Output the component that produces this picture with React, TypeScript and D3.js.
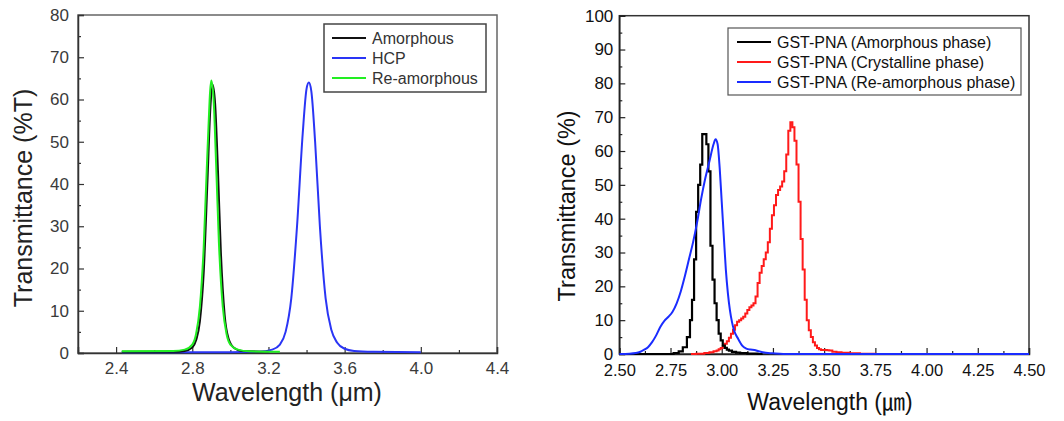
import React, { useEffect, useRef } from 'react'
import * as d3 from 'd3'

// ---- left panel data: wavelength (um), transmittance (%T)
const leftAmorphousX = [2.43, 2.6, 2.7, 2.76, 2.8, 2.82, 2.84, 2.86, 2.88, 2.895, 2.907, 2.92, 2.935, 2.95, 2.97, 2.99, 3.02, 3.06, 3.2]
const leftAmorphousY = [0.3, 0.3, 0.3, 0.5, 1.3, 3, 7.5, 19, 41, 58, 63.5, 59, 43, 24, 9, 3.5, 1.2, 0.5, 0.3]
const leftHcpX = [2.43, 3.0, 3.15, 3.22, 3.26, 3.29, 3.32, 3.35, 3.38, 3.4, 3.412, 3.425, 3.445, 3.47, 3.5, 3.53, 3.56, 3.6, 3.65, 3.75, 4.0]
const leftHcpY = [0.2, 0.2, 0.3, 0.8, 2, 5, 13, 30, 52, 62.5, 64, 62, 50, 30, 13, 5.5, 2.5, 1, 0.5, 0.3, 0.2]
const leftReamX = [2.43, 2.7, 2.76, 2.8, 2.82, 2.84, 2.86, 2.88, 2.9, 2.912, 2.925, 2.94, 2.96, 2.98, 3.0, 3.04, 3.1, 3.26]
const leftReamY = [0.4, 0.5, 0.8, 2, 4.5, 11, 25, 48, 64.5, 60, 45, 26, 11, 4.5, 2, 0.8, 0.4, 0.3]
const leftXTicks = [2.4, 2.8, 3.2, 3.6, 4.0, 4.4]
const leftYTicks = [0, 10, 20, 30, 40, 50, 60, 70, 80]
const leftNames = ['Amorphous', 'HCP', 'Re-amorphous']
const leftColors = ['#111111', '#2a35f5', '#22ee22']

// ---- right panel data: wavelength, transmittance (%)
const rightAmorphousX = [2.5, 2.75, 2.78, 2.8, 2.82, 2.84, 2.85, 2.86, 2.87, 2.88, 2.89, 2.9, 2.91, 2.92, 2.93, 2.94, 2.95, 2.96, 2.97, 2.98, 2.99, 3.0, 3.01, 3.02, 3.03, 3.04, 3.06, 3.08, 3.1, 3.15, 3.2]
const rightAmorphousY = [0, 0, 0.3, 0.8, 2, 5, 10, 16, 28, 42, 50, 56, 65, 65, 62, 54, 32, 22, 15, 10, 6, 4, 2.5, 1.8, 1.3, 1.0, 0.6, 0.4, 0.3, 0.1, 0]
const rightCrystX = [2.85, 2.9, 2.93, 2.95, 2.97, 2.98, 2.99, 3.0, 3.01, 3.02, 3.03, 3.04, 3.05, 3.06, 3.07, 3.08, 3.09, 3.1, 3.11, 3.12, 3.13, 3.14, 3.15, 3.16, 3.17, 3.18, 3.19, 3.2, 3.21, 3.22, 3.23, 3.24, 3.25, 3.26, 3.27, 3.28, 3.29, 3.3, 3.31, 3.32, 3.33, 3.34, 3.35, 3.36, 3.37, 3.38, 3.39, 3.4, 3.41, 3.42, 3.43, 3.44, 3.45, 3.46, 3.47, 3.48, 3.49, 3.5, 3.51, 3.52, 3.53, 3.55, 3.57, 3.6, 3.65, 3.7, 3.8, 4.5]
const rightCrystY = [0, 0.1, 0.3, 0.5, 0.8, 1, 1.4, 1.8, 2.3, 3, 3.8, 4.8, 6, 7.2, 8.5, 9.5, 10, 10.5, 11, 12, 13, 13.8, 14.3, 15, 17, 21, 24, 26, 28, 30, 33, 37, 41, 44, 47, 48.5, 49.5, 51, 54, 59, 66, 68.5, 67, 63, 56, 45, 34, 25, 16, 10, 7, 5, 3.5, 2.5, 1.8, 1.4, 1.2, 1.2, 1.2, 1.1, 1.0, 0.7, 0.5, 0.4, 0.2, 0.1, 0, 0]
const rightReamX = [2.5, 2.55, 2.58, 2.6, 2.62, 2.64, 2.66, 2.68, 2.7, 2.72, 2.74, 2.76, 2.78, 2.8, 2.82, 2.84, 2.86, 2.88, 2.9, 2.92, 2.94, 2.96, 2.97, 2.98, 2.99, 3.0, 3.01, 3.02, 3.03, 3.04, 3.05, 3.06, 3.08, 3.1, 3.12, 3.14, 3.16, 3.18, 3.2, 3.25, 3.3, 4.5]
const rightReamY = [0, 0.1, 0.3, 0.6, 1.2, 2, 3.5, 5.5, 8, 9.8, 11, 12.5, 15, 18.5, 23, 28, 33, 39, 46, 52, 57, 62, 63.5, 62, 55, 45, 35, 25, 18, 13, 9.5, 7, 4.5, 2.5, 1.6, 1.3, 1.2, 0.8, 0.5, 0.2, 0, 0]
const rightXTicks = [2.5, 2.75, 3.0, 3.25, 3.5, 3.75, 4.0, 4.25, 4.5]
const rightYTicks = [0, 10, 20, 30, 40, 50, 60, 70, 80, 90, 100]
const rightNames = ['GST-PNA (Amorphous phase)', 'GST-PNA (Crystalline phase)', 'GST-PNA (Re-amorphous phase)']
const rightColors = ['#000000', '#ff1a1a', '#1a2cff']

const FONT = 'Liberation Sans, Arial, Helvetica, sans-serif'

const zip = (xs: number[], ys: number[]) => xs.map((x, i) => [x, ys[i]] as [number, number])

function App() {
    const ref = useRef<SVGSVGElement>(null)

    useEffect(() => {
        const svg = d3.select(ref.current)
        svg.selectAll('*').remove()

        // ================= left panel =================
        const lx = d3.scaleLinear().domain([2.2, 4.4]).range([78, 497])
        const ly = d3.scaleLinear().domain([0, 80]).range([353, 15])
        const L = svg.append('g')

        // frame
        L.append('rect')
            .attr('x', lx(2.2)).attr('y', ly(80))
            .attr('width', lx(4.4) - lx(2.2)).attr('height', ly(0) - ly(80))
            .attr('fill', 'none').attr('stroke', '#666').attr('stroke-width', 1.5)

        const lAxisX = d3.axisBottom(lx).tickValues(leftXTicks).tickSize(-6).tickPadding(9).tickFormat(d3.format('.1f'))
        const lxg = L.append('g').attr('transform', `translate(0,${ly(0)})`).call(lAxisX)
        lxg.select('.domain').attr('stroke', '#333').attr('stroke-width', 1.5)
        lxg.selectAll('.tick line').attr('stroke', '#333').attr('stroke-width', 1.2)
        lxg.selectAll('.tick text').attr('font-size', 17).attr('font-family', FONT).attr('fill', '#3a3a3a')
        L.append('g').attr('transform', `translate(0,${ly(0)})`)
            .call(d3.axisBottom(lx).tickValues(d3.range(2.2, 4.41, 0.4)).tickSize(-3).tickFormat(() => ''))
            .call(g => g.select('.domain').remove())
            .selectAll('.tick line').attr('stroke', '#333').attr('stroke-width', 1.2)

        const lyg = L.append('g').attr('transform', `translate(${lx(2.2)},0)`)
            .call(d3.axisLeft(ly).tickValues(leftYTicks).tickSize(-6).tickPadding(9))
        lyg.select('.domain').attr('stroke', '#333').attr('stroke-width', 1.5)
        lyg.selectAll('.tick line').attr('stroke', '#333').attr('stroke-width', 1.2)
        lyg.selectAll('.tick text').attr('font-size', 17).attr('font-family', FONT).attr('fill', '#3a3a3a')
        L.append('g').attr('transform', `translate(${lx(2.2)},0)`)
            .call(d3.axisLeft(ly).tickValues(d3.range(5, 80, 10)).tickSize(-3).tickFormat(() => ''))
            .call(g => g.select('.domain').remove())
            .selectAll('.tick line').attr('stroke', '#333').attr('stroke-width', 1.2)

        const lline = d3.line<[number, number]>().x(d => lx(d[0])).y(d => ly(d[1])).curve(d3.curveMonotoneX)
        const leftSeries = [zip(leftHcpX, leftHcpY), zip(leftAmorphousX, leftAmorphousY), zip(leftReamX, leftReamY)]
        const leftOrder = [1, 0, 2]
        leftSeries.forEach((s, i) => {
            L.append('path').datum(s).attr('d', lline)
                .attr('fill', 'none').attr('stroke', leftColors[leftOrder[i]]).attr('stroke-width', 2)
        })

        // legend
        L.append('rect').attr('x', 324).attr('y', 24).attr('width', 162).attr('height', 68)
            .attr('fill', '#fff').attr('stroke', '#444').attr('stroke-width', 1.5)
        leftNames.forEach((n, i) => {
            const yy = 38 + i * 20
            L.append('line').attr('x1', 332).attr('x2', 366).attr('y1', yy).attr('y2', yy)
                .attr('stroke', leftColors[i]).attr('stroke-width', 2)
            L.append('text').attr('x', 372).attr('y', yy).attr('dy', '0.35em')
                .attr('font-size', 16).attr('font-family', FONT).attr('fill', '#333').text(n)
        })

        L.append('text').attr('x', 287).attr('y', 401).attr('text-anchor', 'middle')
            .attr('font-size', 25).attr('font-family', FONT).attr('fill', '#222').text('Wavelength (μm)')
        L.append('text').attr('transform', `translate(32,${(ly(0) + ly(80)) / 2 + 14}) rotate(-90)`)
            .attr('text-anchor', 'middle')
            .attr('font-size', 25).attr('font-family', FONT).attr('fill', '#222').text('Transmittance (%T)')

        // ================= right panel =================
        const rx = d3.scaleLinear().domain([2.5, 4.5]).range([619.3, 1029])
        const ry = d3.scaleLinear().domain([0, 100]).range([354, 15.7])
        const R = svg.append('g')

        R.append('rect')
            .attr('x', rx(2.5)).attr('y', ry(100))
            .attr('width', rx(4.5) - rx(2.5)).attr('height', ry(0) - ry(100))
            .attr('fill', 'none').attr('stroke', '#333').attr('stroke-width', 1.5)

        const rxg = R.append('g').attr('transform', `translate(0,${ry(0)})`)
            .call(d3.axisBottom(rx).tickValues(rightXTicks).tickSize(-6).tickPadding(10).tickFormat(d3.format('.2f')))
        rxg.select('.domain').attr('stroke', '#222').attr('stroke-width', 1.5)
        rxg.selectAll('.tick line').attr('stroke', '#222').attr('stroke-width', 1.2)
        rxg.selectAll('.tick text').attr('font-size', 16.5).attr('font-family', FONT).attr('fill', '#111')
        R.append('g').attr('transform', `translate(0,${ry(0)})`)
            .call(d3.axisBottom(rx).tickValues(d3.range(2.625, 4.5, 0.25)).tickSize(-3).tickFormat(() => ''))
            .call(g => g.select('.domain').remove())
            .selectAll('.tick line').attr('stroke', '#222').attr('stroke-width', 1.2)

        const ryg = R.append('g').attr('transform', `translate(${rx(2.5)},0)`)
            .call(d3.axisLeft(ry).tickValues(rightYTicks).tickSize(-6).tickPadding(6))
        ryg.select('.domain').attr('stroke', '#222').attr('stroke-width', 1.5)
        ryg.selectAll('.tick line').attr('stroke', '#222').attr('stroke-width', 1.2)
        ryg.selectAll('.tick text').attr('font-size', 17).attr('font-family', FONT).attr('fill', '#111')
        R.append('g').attr('transform', `translate(${rx(2.5)},0)`)
            .call(d3.axisLeft(ry).tickValues(d3.range(5, 100, 10)).tickSize(-3).tickFormat(() => ''))
            .call(g => g.select('.domain').remove())
            .selectAll('.tick line').attr('stroke', '#222').attr('stroke-width', 1.2)

        const stepLine = d3.line<[number, number]>().x(d => rx(d[0])).y(d => ry(d[1])).curve(d3.curveStep)
        const smoothLine = d3.line<[number, number]>().x(d => rx(d[0])).y(d => ry(d[1])).curve(d3.curveMonotoneX)
        R.append('path').datum(zip(rightCrystX, rightCrystY)).attr('d', stepLine)
            .attr('fill', 'none').attr('stroke', rightColors[1]).attr('stroke-width', 2)
        R.append('path').datum(zip(rightAmorphousX, rightAmorphousY)).attr('d', stepLine)
            .attr('fill', 'none').attr('stroke', rightColors[0]).attr('stroke-width', 2.2)
        R.append('path').datum(zip(rightReamX, rightReamY)).attr('d', smoothLine)
            .attr('fill', 'none').attr('stroke', rightColors[2]).attr('stroke-width', 2)

        R.append('rect').attr('x', 728).attr('y', 28).attr('width', 293).attr('height', 67)
            .attr('fill', '#fff').attr('stroke', '#555').attr('stroke-width', 1.2)
        rightNames.forEach((n, i) => {
            const yy = 42 + i * 20
            R.append('line').attr('x1', 737).attr('x2', 771).attr('y1', yy).attr('y2', yy)
                .attr('stroke', rightColors[i]).attr('stroke-width', 2)
            R.append('text').attr('x', 777).attr('y', yy).attr('dy', '0.35em')
                .attr('font-size', 16).attr('font-family', FONT).attr('fill', '#111').text(n)
        })

        const rt = R.append('text').attr('x', 830).attr('y', 410).attr('text-anchor', 'middle')
            .attr('font-size', 23).attr('font-family', FONT).attr('fill', '#111')
        rt.append('tspan').text('Wavelength (')
        rt.append('tspan').attr('font-family', 'Noto Sans CJK KR').text('㎛')
        rt.append('tspan').text(')')
        R.append('text').attr('transform', `translate(575,${(ry(0) + ry(100)) / 2 + 21}) rotate(-90)`)
            .attr('text-anchor', 'middle')
            .attr('font-size', 23.5).attr('font-family', FONT).attr('fill', '#111').text('Transmittance (%)')
    }, [])

    return (
        <svg ref={ref} width={1064} height={421}
            style={{ position: 'absolute', left: 0, top: 0, background: '#fff' }} />
    )
}

export default App
